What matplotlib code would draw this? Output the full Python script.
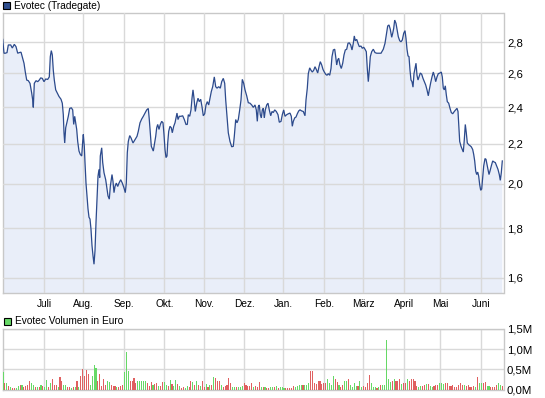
import numpy as np
import matplotlib
matplotlib.use("Agg")
import matplotlib.pyplot as plt
from matplotlib.patches import Rectangle

plt.rcParams['font.family'] = ['Liberation Sans', 'DejaVu Sans']

# ---------------- data ----------------
# chart position (trading-time axis, 0..501) and closing price (EUR)
pos = [0.2, 1.5, 2.8, 4.5, 5.8, 8.2, 9.8, 11.8, 13.5, 15.2, 16.8, 18.5, 20.2, 21.5, 22.8, 24.2,
       25.8, 27.5, 29.2, 30.2, 30.8, 31.8, 33.5, 35.2, 36.8, 38.2, 39.8, 41.5, 43.2, 45.2, 46.8,
       47.8, 48.8, 49.8, 50.8, 51.8, 53.2, 54.8, 56.5, 58.5, 59.8, 60.8, 61.5, 62.2, 63.2, 64.5,
       65.8, 67.2, 68.8, 70.2, 71.2, 72.2, 73.2, 74.2, 75.2, 76.5, 77.8, 79.2, 80.2, 80.8, 81.8,
       82.5, 83.5, 84.5, 85.5, 86.5, 87.5, 88.5, 89.5, 90.5, 91.5, 92.5, 93.5, 94.5, 95.5, 96.5,
       97.2, 97.8, 99.2, 100.2, 101.5, 103.2, 104.2, 105.5, 106.8, 107.8, 109.5, 110.5, 111.5,
       112.5, 113.8, 115.2, 116.5, 118.2, 119.8, 121.5, 122.8, 123.8, 124.8, 125.8, 127.2, 128.5,
       130.5, 132.5, 134.5, 135.8, 137.5, 139.2, 140.8, 142.5, 144.2, 145.8, 146.8, 147.8, 148.8,
       149.8, 150.8, 151.8, 153.2, 154.2, 155.2, 156.5, 157.8, 159.2, 160.5, 161.5, 162.5, 163.5,
       164.5, 165.2, 166.2, 167.5, 168.8, 169.8, 171.2, 172.5, 173.5, 174.5, 175.5, 176.8, 178.5,
       180.2, 181.8, 183.5, 184.8, 185.8, 187.2, 188.5, 189.5, 190.5, 191.5, 192.8, 194.2, 195.5,
       196.8, 198.2, 199.5, 200.8, 202.2, 203.5, 204.8, 206.2, 207.5, 208.8, 210.2, 211.8, 213.2,
       214.5, 216.2, 217.8, 219.2, 220.8, 222.2, 223.2, 224.5, 225.8, 227.5, 229.2, 230.8, 231.8,
       233.2, 234.5, 235.8, 237.2, 238.5, 239.8, 241.2, 242.5, 244.2, 245.8, 247.5, 249.2, 250.8,
       252.5, 253.8, 254.8, 255.8, 256.8, 257.8, 258.8, 259.8, 260.8, 261.8, 262.8, 264.2, 265.5,
       266.8, 268.2, 269.5, 270.8, 272.2, 273.8, 275.5, 276.8, 278.5, 279.8, 281.2, 282.5, 284.2,
       285.8, 287.5, 288.8, 289.8, 290.8, 292.2, 293.5, 294.8, 296.2, 297.5, 299.2, 300.8, 302.5,
       303.5, 304.8, 305.8, 307.2, 308.5, 309.8, 311.2, 312.5, 313.8, 315.2, 316.5, 317.8, 319.2,
       320.5, 321.8, 323.2, 324.5, 325.8, 327.2, 328.5, 329.5, 330.8, 332.2, 333.2, 334.2, 335.2,
       336.2, 337.5, 338.8, 340.2, 341.5, 342.8, 344.2, 345.5, 346.8, 348.2, 349.5, 350.8, 351.8,
       352.8, 354.2, 355.5, 356.8, 358.5, 359.8, 361.2, 362.5, 363.8, 364.8, 365.8, 366.8, 367.8,
       369.2, 370.8, 372.5, 374.2, 375.2, 378.5, 380.8, 382.5, 383.8, 385.2, 386.5, 387.8, 389.2,
       390.2, 391.2, 392.2, 393.5, 394.8, 395.8, 397.2, 398.5, 399.8, 401.2, 402.5, 403.5, 404.5,
       405.5, 406.5, 407.5, 408.5, 409.5, 410.5, 411.5, 412.5, 413.5, 414.5, 415.5, 416.5, 417.8,
       419.2, 420.5, 421.8, 423.2, 424.5, 425.8, 426.8, 428.2, 429.5, 430.8, 432.2, 433.2, 434.5,
       435.8, 437.5, 438.8, 439.8, 440.8, 441.8, 442.8, 443.8, 444.8, 446.2, 447.5, 448.8, 450.2,
       451.8, 453.2, 454.5, 455.5, 456.2, 457.2, 458.5, 459.8, 460.8, 461.8, 462.8, 463.8, 464.8,
       466.2, 467.5, 468.8, 470.2, 471.2, 472.2, 473.2, 474.2, 475.2, 476.2, 477.2, 478.2, 479.2,
       480.2, 481.2, 482.5, 483.5, 484.5, 485.5, 486.5, 487.5, 488.8, 490.2, 491.5, 492.8, 494.2,
       495.5, 496.8, 497.8, 498.8, 499.8]
price = [2.818, 2.727, 2.727, 2.731, 2.781, 2.781, 2.761, 2.785, 2.770, 2.727, 2.731, 2.734, 2.695,
         2.663, 2.608, 2.559, 2.555, 2.539, 2.481, 2.441, 2.398, 2.539, 2.555, 2.549, 2.559, 2.572,
         2.569, 2.549, 2.565, 2.563, 2.578, 2.705, 2.744, 2.716, 2.619, 2.559, 2.500, 2.481, 2.461,
         2.445, 2.422, 2.357, 2.258, 2.204, 2.285, 2.315, 2.348, 2.392, 2.396, 2.384, 2.303, 2.348,
         2.312, 2.276, 2.212, 2.162, 2.145, 2.137, 2.212, 2.249, 2.187, 2.104, 2.004, 1.944, 1.885,
         1.848, 1.840, 1.796, 1.728, 1.687, 1.653, 1.707, 1.825, 1.929, 2.037, 2.070, 2.030, 2.137,
         2.179, 2.104, 2.054, 2.020, 1.988, 1.944, 1.929, 1.988, 2.045, 2.012, 1.959, 1.988, 2.004,
         1.988, 2.004, 2.020, 2.004, 1.981, 1.959, 2.004, 2.154, 2.212, 2.243, 2.231, 2.204, 2.221,
         2.239, 2.266, 2.312, 2.333, 2.348, 2.366, 2.384, 2.392, 2.330, 2.258, 2.187, 2.174, 2.162,
         2.195, 2.239, 2.285, 2.303, 2.276, 2.303, 2.320, 2.312, 2.249, 2.170, 2.129, 2.137, 2.204,
         2.266, 2.293, 2.285, 2.258, 2.293, 2.312, 2.339, 2.366, 2.330, 2.348, 2.348, 2.351, 2.330,
         2.303, 2.303, 2.357, 2.348, 2.384, 2.451, 2.500, 2.451, 2.375, 2.422, 2.451, 2.431, 2.445,
         2.402, 2.351, 2.362, 2.412, 2.431, 2.412, 2.451, 2.490, 2.519, 2.578, 2.519, 2.510, 2.519,
         2.510, 2.549, 2.569, 2.539, 2.441, 2.348, 2.258, 2.212, 2.184, 2.187, 2.239, 2.330, 2.312,
         2.330, 2.384, 2.441, 2.563, 2.539, 2.500, 2.465, 2.425, 2.422, 2.412, 2.398, 2.412, 2.384,
         2.320, 2.402, 2.412, 2.357, 2.339, 2.384, 2.393, 2.339, 2.384, 2.412, 2.422, 2.384, 2.351,
         2.375, 2.369, 2.384, 2.375, 2.357, 2.315, 2.320, 2.357, 2.384, 2.348, 2.357, 2.362, 2.366,
         2.348, 2.293, 2.320, 2.339, 2.344, 2.362, 2.378, 2.384, 2.378, 2.375, 2.351, 2.441, 2.510,
         2.598, 2.634, 2.619, 2.608, 2.619, 2.641, 2.624, 2.602, 2.641, 2.673, 2.652, 2.624, 2.608,
         2.594, 2.588, 2.598, 2.588, 2.630, 2.705, 2.748, 2.753, 2.705, 2.652, 2.684, 2.695, 2.652,
         2.630, 2.663, 2.716, 2.748, 2.753, 2.792, 2.795, 2.781, 2.748, 2.792, 2.841, 2.809, 2.818,
         2.792, 2.770, 2.774, 2.759, 2.766, 2.753, 2.737, 2.630, 2.549, 2.619, 2.705, 2.737, 2.753,
         2.731, 2.727, 2.727, 2.727, 2.753, 2.792, 2.848, 2.909, 2.916, 2.886, 2.832, 2.859, 2.893,
         2.950, 2.927, 2.877, 2.836, 2.809, 2.802, 2.814, 2.859, 2.877, 2.825, 2.753, 2.710, 2.705,
         2.619, 2.559, 2.549, 2.516, 2.598, 2.630, 2.663, 2.588, 2.559, 2.578, 2.602, 2.594, 2.569,
         2.549, 2.529, 2.500, 2.465, 2.500, 2.543, 2.578, 2.608, 2.578, 2.549, 2.578, 2.598, 2.602,
         2.608, 2.578, 2.510, 2.500, 2.524, 2.471, 2.431, 2.422, 2.393, 2.369, 2.362, 2.375, 2.384,
         2.393, 2.375, 2.303, 2.212, 2.187, 2.170, 2.157, 2.221, 2.303, 2.258, 2.204, 2.195, 2.190,
         2.184, 2.170, 2.145, 2.112, 2.062, 2.045, 2.057, 2.037, 1.996, 1.970, 1.976, 2.029, 2.087,
         2.124, 2.120, 2.095, 2.070, 2.045, 2.062, 2.087, 2.112, 2.107, 2.104, 2.087, 2.070, 2.045,
         2.017, 2.054, 2.112]

# daily turnover in million EUR and direction (G = up day, R = down day)
volume = [0.44, 0.17, 0.16, 0.08, 0.06, 0.03, 0.03, 0.03, 0.08, 0.10, 0.12, 0.05, 0.08, 0.10, 0.20,
          0.15, 0.12, 0.05, 0.05, 0.05, 0.12, 0.08, 0.07, 0.23, 0.05, 0.16, 0.27, 0.10, 0.10, 0.06,
          0.30, 0.22, 0.12, 0.10, 0.05, 0.05, 0.03, 0.05, 0.07, 0.20, 0.05, 0.33, 0.50, 0.33, 0.48,
          0.38, 0.10, 0.33, 0.61, 0.53, 0.20, 0.38, 0.08, 0.27, 0.10, 0.20, 0.18, 0.10, 0.08, 0.08,
          0.06, 0.06, 0.08, 0.10, 0.43, 0.93, 0.47, 0.22, 0.22, 0.28, 0.15, 0.22, 0.20, 0.22, 0.20,
          0.22, 0.15, 0.08, 0.18, 0.12, 0.14, 0.15, 0.08, 0.08, 0.18, 0.18, 0.10, 0.08, 0.23, 0.13,
          0.08, 0.23, 0.13, 0.08, 0.03, 0.05, 0.03, 0.08, 0.05, 0.20, 0.18, 0.10, 0.22, 0.10, 0.08,
          0.20, 0.07, 0.13, 0.05, 0.10, 0.12, 0.30, 0.28, 0.22, 0.20, 0.10, 0.07, 0.08, 0.10, 0.28,
          0.17, 0.05, 0.05, 0.05, 0.05, 0.05, 0.08, 0.17, 0.10, 0.08, 0.08, 0.15, 0.05, 0.08, 0.05,
          0.18, 0.05, 0.05, 0.05, 0.03, 0.03, 0.05, 0.05, 0.05, 0.08, 0.03, 0.05,
          0.05, 0.03, 0.03, 0.03, 0.03, 0.03, 0.08, 0.05, 0.08, 0.10, 0.10, 0.10, 0.12, 0.10, 0.15,
          0.47, 0.47, 0.15, 0.13, 0.22, 0.22, 0.13, 0.15, 0.15, 0.27, 0.15, 0.10, 0.33, 0.27, 0.18,
          0.12, 0.07, 0.10, 0.20, 0.22, 0.25, 0.10, 0.07, 0.15, 0.08, 0.08, 0.20, 0.05, 0.08, 0.05,
          0.15, 0.37, 0.15, 0.07, 0.05, 0.03, 0.05, 0.10, 0.10, 0.12, 1.22, 0.27, 0.18, 0.22, 0.27,
          0.20, 0.20, 0.25, 0.13, 0.15, 0.15, 0.25, 0.22, 0.25, 0.25, 0.20, 0.08, 0.05, 0.08, 0.08,
          0.10, 0.13, 0.13, 0.08, 0.05, 0.08, 0.12, 0.10, 0.15, 0.17, 0.13, 0.15, 0.15, 0.08, 0.08,
          0.10, 0.07, 0.07, 0.12, 0.15, 0.12, 0.10, 0.08, 0.10, 0.07, 0.05, 0.08, 0.05, 0.30, 0.15,
          0.15, 0.15, 0.18, 0.08, 0.08, 0.05, 0.07, 0.05, 0.10, 0.15, 0.10, 0.08]
direction = list("GRGRGRRGGRGRRRRGGRGRGRGGRGRRRGRRGGRRGRGRGRRRRRGGGGRRRRRGGRRRGRRRGGGRRRRGGGGGRRRGRRGRRGGRGRGGRGRRGGRRGRGRGRRGRGRGRRRGRRRRRGGRGGGRRRRRGRRRGRGRRGGRGR"
                 "GGGRRRRRGGGGRGGGRRRRRRRRRGGGGRRGRRGGRGGGGRGGRRRRGGGRGRGGGGGRGRRRGRRGRRRRRGGRRGRGGRRRGGGRRRRRRRRRRGRRRRRGRGGRRGGRRRRG")

month_labels = ["Juli", "Aug.", "Sep.", "Okt.", "Nov.", "Dez.", "Jan.", "Feb.", "März",
                "April", "Mai", "Juni"]
month_pos = [41.8, 80.8, 121.8, 161.8, 201.2, 241.8, 280.8, 321.8, 360.8, 401.8, 437.5, 478.5]

price_ticks = [1.6, 1.8, 2.0, 2.2, 2.4, 2.6, 2.8]
vol_ticks = [0.0, 0.5, 1.0, 1.5]

# ---------------- styling ----------------
W, H = 545, 398
LINE = "#2c4a8c"
FILL = "#e9eef9"
GRID = "#d9d9d9"
BORDER = "#c8c8c8"
GREEN = "#66d966"
RED = "#e06060"
FS = 7.3
FS_Y = 8.2

fig = plt.figure(figsize=(W / 100, H / 100), dpi=100)

def frac(x0, y0, x1, y1):
    return [x0 / W, 1 - y1 / H, (x1 - x0) / W, (y1 - y0) / H]

XMIN, XMAX = 0, 501

# price panel
ax = fig.add_axes(frac(2.5, 13, 503.5, 293))
ax.set_yscale('log')
ax.set_xlim(XMIN, XMAX)
ax.set_ylim(1.544, 3.0)
ax.fill_between(pos, price, 1.0, color=FILL, lw=0, zorder=1)
ax.plot(pos, price, color=LINE, lw=0.9, zorder=3, solid_joinstyle='miter')
ax.yaxis.set_major_locator(matplotlib.ticker.FixedLocator(price_ticks))
ax.yaxis.set_minor_locator(matplotlib.ticker.NullLocator())
ax.set_yticklabels([f"{v:.1f}".replace('.', ',') for v in price_ticks])
ax.yaxis.tick_right()
ax.set_xticks(month_pos)
ax.set_xticklabels(month_labels)
ax.tick_params(axis='both', length=0, colors='black')
ax.tick_params(axis='x', labelsize=FS, pad=4.5)
ax.tick_params(axis='y', labelsize=FS_Y, pad=2.5)
ax.grid(True, color=GRID, lw=1.0, zorder=2)
ax.set_axisbelow(False)
for s in ax.spines.values():
    s.set_color(BORDER)
    s.set_linewidth(1.0)

# volume panel
av = fig.add_axes(frac(2.5, 329, 503.5, 389.5))
n = len(volume)
vpos = np.linspace(0.5, 499.8, n)
cols = [GREEN if d == "G" else RED for d in direction[:n]]
av.bar(vpos, volume, width=1.1, color=cols, lw=0, zorder=3, antialiased=False)
av.set_xlim(XMIN, XMAX)
av.set_ylim(0, 1.5)
av.set_yticks(vol_ticks)
av.set_yticklabels([f"{v:.1f}".replace('.', ',') + "M" for v in vol_ticks])
av.yaxis.tick_right()
av.set_xticks(month_pos)
av.set_xticklabels([])
av.tick_params(axis='both', length=0, colors='black')
av.tick_params(axis='y', labelsize=FS_Y, pad=2.5)
av.grid(True, color=GRID, lw=1.0, zorder=1)
av.set_axisbelow(True)
for s in av.spines.values():
    s.set_color(BORDER)
    s.set_linewidth(1.0)

# legends
fig.patches.append(Rectangle((2.5 / W, 1 - 9 / H), 7 / W, 7 / H, transform=fig.transFigure,
                             facecolor="#2f4f8f", edgecolor="black", lw=0.8))
fig.text(14.5 / W, 1 - 5.8 / H, "Evotec (Tradegate)", fontsize=FS, va='center', ha='left')
fig.patches.append(Rectangle((3.5 / W, 1 - 324.5 / H), 7 / W, 7 / H, transform=fig.transFigure,
                             facecolor=GREEN, edgecolor="black", lw=0.8))
fig.text(15 / W, 1 - 321 / H, "Evotec Volumen in Euro", fontsize=FS, va='center', ha='left')

fig.savefig("out.png", dpi=100)
